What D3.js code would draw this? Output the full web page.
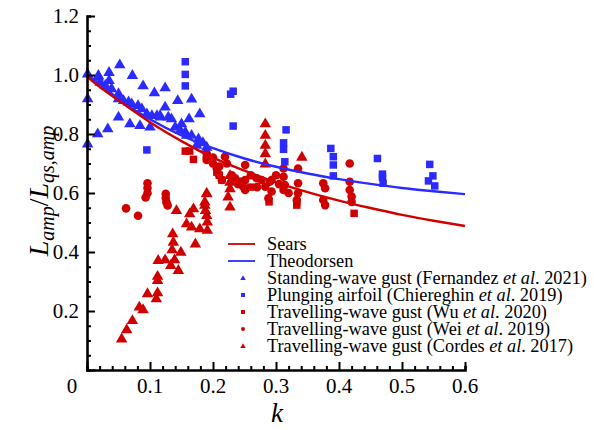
<!DOCTYPE html>
<html>
<head>
<meta charset="utf-8">
<script src="https://cdn.jsdelivr.net/npm/d3@7"></script>
</head>
<body style="margin:0">
<script>
// theory curves
const searsK = [0, 0.02, 0.05, 0.1, 0.15, 0.2, 0.25, 0.3, 0.35, 0.4, 0.45, 0.5, 0.55, 0.6];
const searsL = [0.995, 0.96, 0.914, 0.84, 0.776, 0.72, 0.676, 0.636, 0.603, 0.574, 0.549, 0.526, 0.506, 0.488];
const theoK = [0, 0.02, 0.05, 0.1, 0.15, 0.2, 0.25, 0.3, 0.35, 0.4, 0.45, 0.5, 0.55, 0.6];
const theoL = [1.0, 0.97, 0.918, 0.85, 0.795, 0.752, 0.717, 0.689, 0.666, 0.647, 0.631, 0.617, 0.606, 0.596];

// Standing-wave gust (Fernandez et al. 2021)
const fernandez = [
  [0.001, 1.005], [0.018, 1.0], [0.035, 1.01], [0.052, 1.036], [0.072, 1.0], [0.089, 0.965], [0.107, 0.941],
  [0.124, 0.958], [0.144, 0.915], [0.166, 0.92], [0.179, 0.87], [0.05, 0.859], [0.033, 0.819], [0.017, 0.802],
  [0.001, 0.768], [0.001, 0.921], [0.068, 0.836], [0.084, 0.83], [0.10, 0.825], [0.116, 0.864], [0.134, 0.853],
  [0.15, 0.836], [0.162, 0.853], [0.124, 0.893], [0.018, 0.995], [0.021, 0.977], [0.029, 0.966], [0.035, 0.983],
  [0.039, 0.955], [0.05, 0.938], [0.05, 0.921], [0.058, 0.915], [0.066, 0.91], [0.071, 0.904], [0.081, 0.898],
  [0.087, 0.887], [0.095, 0.87], [0.103, 0.864], [0.111, 0.864], [0.116, 0.859], [0.129, 0.859], [0.14, 0.825],
  [0.148, 0.814], [0.156, 0.808], [0.166, 0.797], [0.177, 0.785], [0.184, 0.772], [0.158, 0.797], [0.174, 0.763],
  [0.19, 0.757]
];
// Plunging airfoil (Chiereghin et al. 2019)
const chiereghin = [
  [0.156, 1.045], [0.156, 1.002], [0.156, 0.963], [0.095, 0.746], [0.232, 0.827], [0.232, 0.945], [0.228, 0.935],
  [0.316, 0.814], [0.312, 0.77], [0.312, 0.748], [0.314, 0.706], [0.387, 0.751], [0.391, 0.723], [0.391, 0.695],
  [0.391, 0.658], [0.461, 0.717], [0.469, 0.664], [0.469, 0.653], [0.47, 0.633], [0.544, 0.697], [0.549, 0.658],
  [0.542, 0.641], [0.552, 0.624]
];
// Travelling-wave gust (Wu et al. 2020)
const wu = [
  [0.156, 0.742], [0.163, 0.742], [0.169, 0.714], [0.206, 0.671], [0.214, 0.644], [0.21, 0.66], [0.289, 0.57],
  [0.333, 0.57], [0.333, 0.559], [0.424, 0.531], [0.26, 0.62], [0.245, 0.64]
];
// Travelling-wave gust (Wei et al. 2019)
const wei = [
  [0.062, 0.548], [0.081, 0.523], [0.096, 0.633], [0.096, 0.617], [0.096, 0.599], [0.093, 0.585], [0.125, 0.597],
  [0.125, 0.583], [0.126, 0.569], [0.128, 0.558], [0.19, 0.734], [0.19, 0.712], [0.19, 0.72], [0.206, 0.683],
  [0.208, 0.666], [0.214, 0.644], [0.219, 0.723], [0.222, 0.7], [0.251, 0.695], [0.251, 0.644], [0.251, 0.61],
  [0.248, 0.621], [0.269, 0.65], [0.277, 0.644], [0.283, 0.621], [0.293, 0.644], [0.293, 0.605], [0.288, 0.582],
  [0.312, 0.683], [0.312, 0.655], [0.314, 0.627], [0.312, 0.61], [0.335, 0.683], [0.335, 0.633], [0.335, 0.599],
  [0.333, 0.576], [0.375, 0.633], [0.378, 0.616], [0.375, 0.576], [0.378, 0.559], [0.417, 0.7], [0.417, 0.638],
  [0.417, 0.61], [0.42, 0.588], [0.42, 0.57], [0.29, 0.638], [0.2, 0.7], [0.23, 0.66], [0.24, 0.63],
  [0.2, 0.72], [0.21, 0.69], [0.235, 0.65], [0.26, 0.66], [0.27, 0.62], [0.3, 0.66], [0.32, 0.6], [0.305, 0.63]
];
// Travelling-wave gust (Cordes et al. 2017)
const cordes = [
  [0.055, 0.107], [0.063, 0.138], [0.072, 0.169], [0.083, 0.215], [0.089, 0.206], [0.096, 0.26], [0.11, 0.243],
  [0.112, 0.263], [0.112, 0.305], [0.112, 0.319], [0.113, 0.373], [0.124, 0.375], [0.133, 0.356], [0.139, 0.375],
  [0.145, 0.339], [0.135, 0.409], [0.137, 0.435], [0.136, 0.463], [0.149, 0.401], [0.142, 0.542], [0.158, 0.497],
  [0.163, 0.531], [0.169, 0.548], [0.166, 0.486], [0.172, 0.429], [0.179, 0.48], [0.19, 0.599], [0.187, 0.571],
  [0.188, 0.542], [0.19, 0.525], [0.191, 0.503], [0.191, 0.475], [0.227, 0.661], [0.227, 0.638], [0.227, 0.616],
  [0.227, 0.554], [0.224, 0.588], [0.283, 0.836], [0.283, 0.797], [0.283, 0.763], [0.283, 0.735], [0.283, 0.70],
  [0.341, 0.723], [0.19, 0.60], [0.187, 0.56]
];

const xTicks = [0.1, 0.2, 0.3, 0.4, 0.5, 0.6];
const yTicks = [0.2, 0.4, 0.6, 0.8, 1.0, 1.2];

const blue = "#2b2bff", red = "#d10000";
const FONT = '"Liberation Serif"';

const width = 594, height = 430;
const x = d3.scaleLinear().domain([0, 0.6]).range([87, 465]);
const y = d3.scaleLinear().domain([0, 1.2]).range([370, 16]);

const svg = d3.select("body").append("svg")
  .attr("width", width)
  .attr("height", height);

// marker shapes
function tri(s) {
  const h = s * 0.86;
  return `M0,${-h * 0.6}L${s / 2},${h * 0.4}L${-s / 2},${h * 0.4}Z`;
}
function sq(s) {
  return `M${-s / 2},${-s / 2}h${s}v${s}h${-s}Z`;
}

const lineGen = d3.line().x(d => x(d[0])).y(d => y(d[1])).curve(d3.curveMonotoneX);

// points first, then curves on top
function drawPts(data, shape, color, cls) {
  const g = svg.append("g").attr("class", cls);
  if (shape === "circle") {
    g.selectAll("circle").data(data).join("circle")
      .attr("cx", d => x(d[0])).attr("cy", d => y(d[1])).attr("r", 4.3)
      .attr("fill", color);
  } else {
    g.selectAll("path").data(data).join("path")
      .attr("transform", d => `translate(${x(d[0])},${y(d[1])})`)
      .attr("d", shape === "tri" ? tri(11.5) : sq(7.5))
      .attr("fill", color);
  }
}

drawPts(cordes, "tri", red, "cordes");
drawPts(wei, "circle", red, "wei");
drawPts(wu, "sq", red, "wu");
drawPts(chiereghin, "sq", blue, "chiereghin");
drawPts(fernandez, "tri", blue, "fernandez");

svg.append("path")
  .datum(theoK.map((k, i) => [k, theoL[i]]))
  .attr("d", lineGen)
  .attr("fill", "none").attr("stroke", blue).attr("stroke-width", 2.4);

svg.append("path")
  .datum(searsK.map((k, i) => [k, searsL[i]]))
  .attr("d", lineGen)
  .attr("fill", "none").attr("stroke", red).attr("stroke-width", 2.4);

// axes (ticks pointing inward)
const xAxis = svg.append("g").attr("transform", `translate(0,${y(0)})`);
xAxis.call(d3.axisTop(x).tickValues(d3.range(0, 0.601, 0.02)).tickSize(4).tickFormat(""));
xAxis.call(g => g.selectAll(".tick line").filter(d => Math.abs(d * 10 - Math.round(d * 10)) < 1e-6).attr("y2", -8));

const yAxis = svg.append("g").attr("transform", `translate(${x(0)},0)`);
yAxis.call(d3.axisRight(y).tickValues(d3.range(0, 1.2001, 0.05)).tickSize(4).tickFormat(""));
yAxis.call(g => g.selectAll(".tick line").filter(d => Math.abs(d * 5 - Math.round(d * 5)) < 1e-6).attr("x2", 8));

svg.selectAll(".domain").attr("stroke", "#000").attr("stroke-width", 2.6);
svg.selectAll(".tick line").attr("stroke", "#000").attr("stroke-width", 2);

// tick labels
svg.append("g").selectAll("text").data(xTicks).join("text")
  .style("font-family", FONT).style("font-size", "21px")
  .attr("x", d => x(d)).attr("y", 393)
  .attr("text-anchor", "middle")
  .text(d => d3.format(".1f")(d));
svg.append("text").style("font-family", FONT).style("font-size", "21px")
  .attr("x", 72).attr("y", 393)
  .attr("text-anchor", "middle").text("0");

svg.append("g").selectAll("text").data(yTicks).join("text")
  .style("font-family", FONT).style("font-size", "21px")
  .attr("x", 79).attr("y", d => y(d) + 7)
  .attr("text-anchor", "end")
  .text(d => d3.format(".1f")(d));

// axis titles
svg.append("text").style("font-family", FONT).style("font-size", "27px").style("font-style", "italic")
  .attr("x", 277).attr("y", 422)
  .attr("text-anchor", "middle")
  .text("k");

const yl = svg.append("text").style("font-family", FONT).style("font-size", "28px").style("font-style", "italic")
  .attr("transform", "translate(48,191) rotate(-90)")
  .attr("text-anchor", "middle");
yl.append("tspan").text("L");
yl.append("tspan").attr("dy", 6).style("font-size", "20px").text("amp");
yl.append("tspan").attr("dy", -6).style("font-style", "normal").text("/");
yl.append("tspan").text("L");
yl.append("tspan").attr("dy", 6).style("font-size", "20px").text("qs,amp");

// legend
const legendItems = [
  {type: "line", color: red, parts: [["Sears", false]]},
  {type: "line", color: blue, parts: [["Theodorsen", false]]},
  {type: "tri", color: blue, parts: [["Standing-wave gust (Fernandez ", false], ["et al", true], [". 2021)", false]]},
  {type: "sq", color: blue, parts: [["Plunging airfoil (Chiereghin ", false], ["et al", true], [". 2019)", false]]},
  {type: "sq", color: red, parts: [["Travelling-wave gust (Wu ", false], ["et al", true], [". 2020)", false]]},
  {type: "circle", color: red, parts: [["Travelling-wave gust (Wei ", false], ["et al", true], [". 2019)", false]]},
  {type: "tri", color: red, parts: [["Travelling-wave gust (Cordes ", false], ["et al", true], [". 2017)", false]]}
];

const legend = svg.append("g").attr("transform", "translate(228,244)");
legendItems.forEach((it, i) => {
  const row = legend.append("g").attr("transform", `translate(0,${i * 17})`);
  if (it.type === "line") {
    row.append("line").attr("x1", 0).attr("x2", 27).attr("y1", 0).attr("y2", 0)
      .attr("stroke", it.color).attr("stroke-width", 1.8);
  } else if (it.type === "circle") {
    row.append("circle").attr("cx", 15).attr("cy", 0).attr("r", 2).attr("fill", it.color);
  } else {
    row.append("path").attr("transform", "translate(15,0)")
      .attr("d", it.type === "tri" ? tri(5.5) : sq(4)).attr("fill", it.color);
  }
  const t = row.append("text").style("font-family", FONT).style("font-size", "18.3px")
    .attr("x", 39).attr("y", 6);
  it.parts.forEach(p => t.append("tspan").style("font-style", p[1] ? "italic" : "normal").text(p[0]));
});
</script>
</body>
</html>
